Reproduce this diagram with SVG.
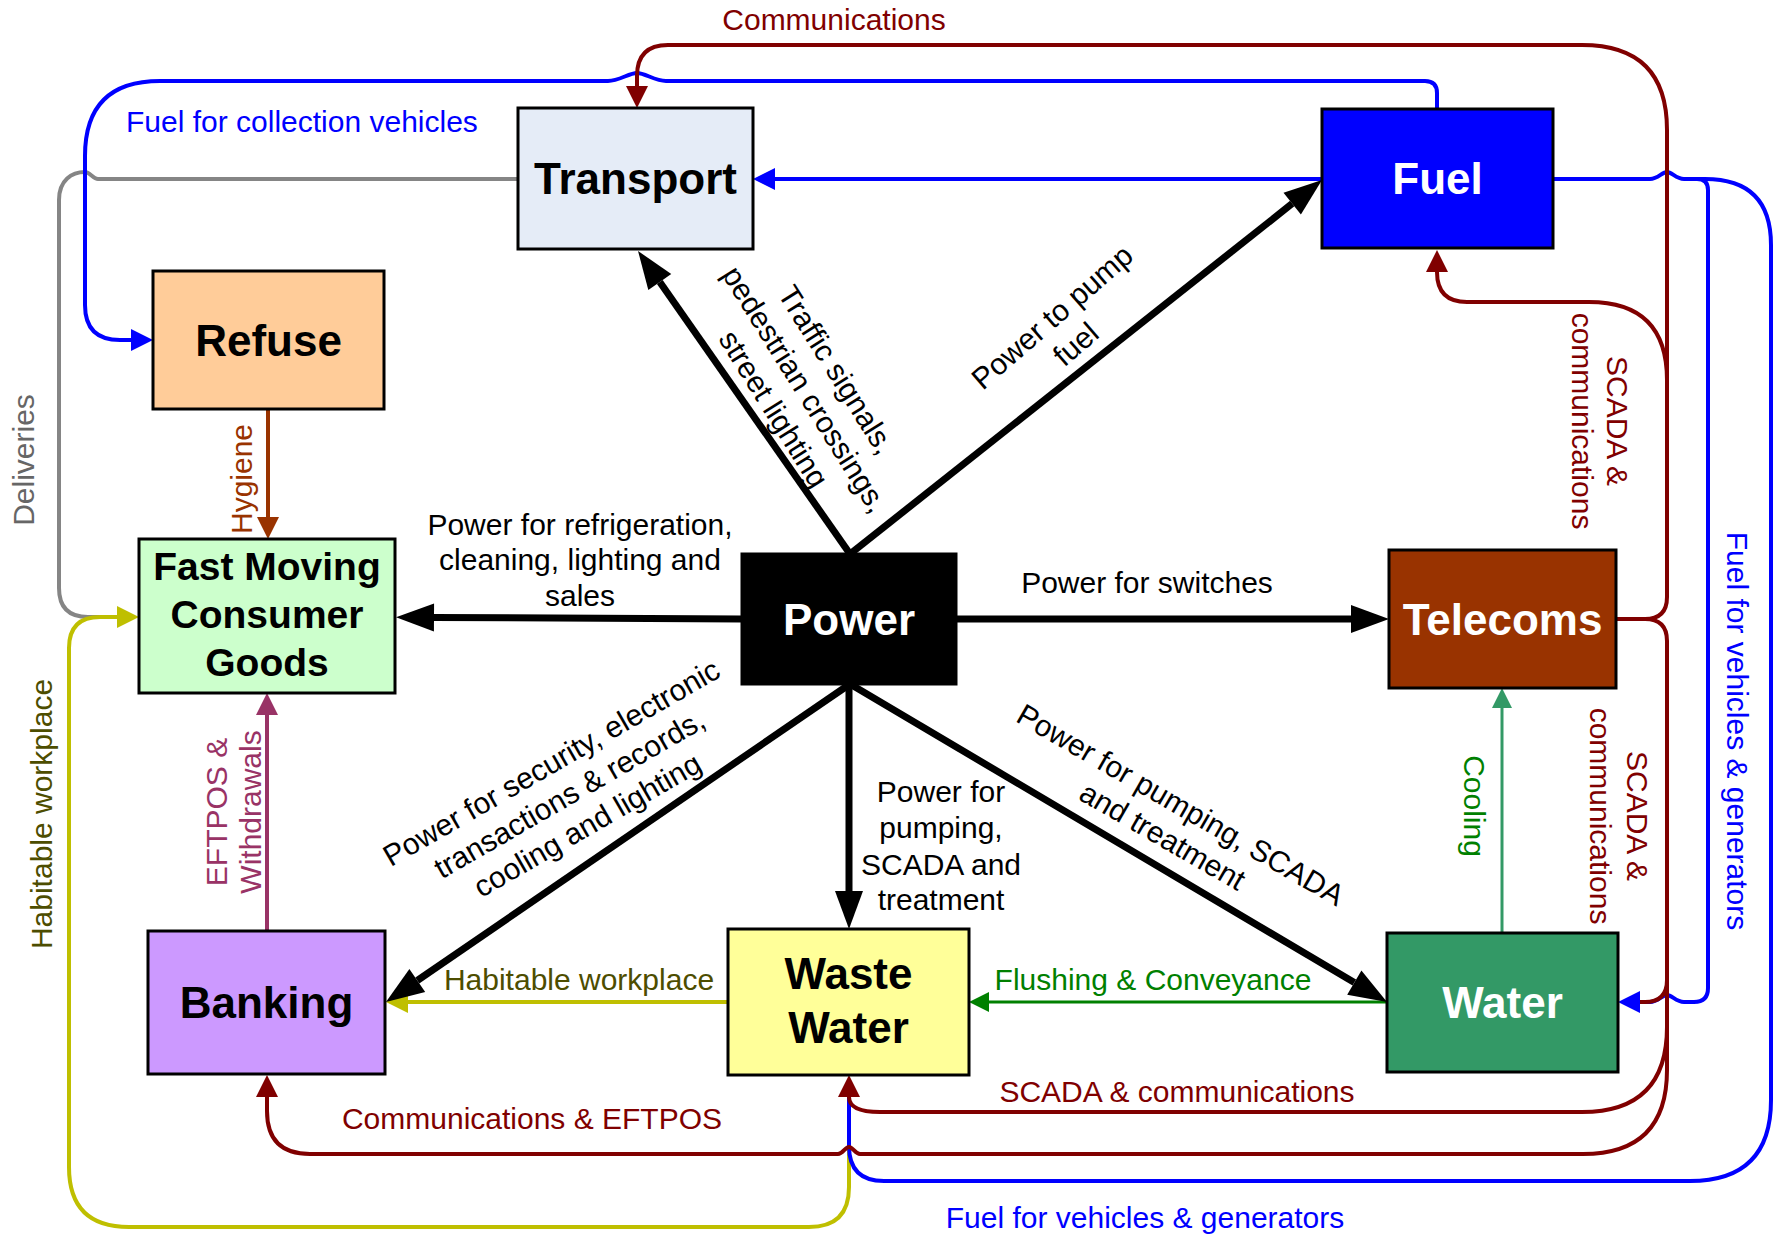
<svg xmlns="http://www.w3.org/2000/svg" width="1781" height="1235" viewBox="0 0 1781 1235">
<style>
.box{stroke:#000;stroke-width:3}
.title{font-family:"Liberation Sans",Arial,sans-serif;font-weight:bold;font-size:44px;text-anchor:middle}
.lbl{font-family:"Liberation Sans",Arial,sans-serif;font-size:30px}
.mid{text-anchor:middle}
.ln{fill:none;stroke-width:4}
.blk{fill:none;stroke:#000;stroke-width:7}
.red{stroke:#800000}
.blue{stroke:#0000FF}
.yel{stroke:#BFBF00}
</style>
<defs>
<marker id="ak" markerUnits="userSpaceOnUse" markerWidth="40" markerHeight="30" refX="0" refY="15" orient="auto" overflow="visible"><path d="M0,1 L38,15 L0,29 z" fill="#000"/></marker>
<marker id="ar" markerUnits="userSpaceOnUse" markerWidth="24" markerHeight="24" refX="0" refY="11" orient="auto" overflow="visible"><path d="M0,0 L22,11 L0,22 z" fill="#800000"/></marker>
<marker id="ab" markerUnits="userSpaceOnUse" markerWidth="24" markerHeight="24" refX="0" refY="11" orient="auto" overflow="visible"><path d="M0,0 L22,11 L0,22 z" fill="#0000FF"/></marker>
<marker id="ay" markerUnits="userSpaceOnUse" markerWidth="24" markerHeight="24" refX="0" refY="11" orient="auto" overflow="visible"><path d="M0,0 L22,11 L0,22 z" fill="#BFBF00"/></marker>
<marker id="abr" markerUnits="userSpaceOnUse" markerWidth="24" markerHeight="24" refX="0" refY="11" orient="auto" overflow="visible"><path d="M0,0 L22,11 L0,22 z" fill="#993300"/></marker>
<marker id="ap" markerUnits="userSpaceOnUse" markerWidth="24" markerHeight="24" refX="0" refY="11" orient="auto" overflow="visible"><path d="M0,0 L22,11 L0,22 z" fill="#993366"/></marker>
<marker id="ag" markerUnits="userSpaceOnUse" markerWidth="24" markerHeight="24" refX="0" refY="10" orient="auto" overflow="visible"><path d="M0,0 L20,10 L0,20 z" fill="#008000"/></marker>
<marker id="asg" markerUnits="userSpaceOnUse" markerWidth="24" markerHeight="24" refX="0" refY="10" orient="auto" overflow="visible"><path d="M0,0 L20,10 L0,20 z" fill="#339966"/></marker>
</defs>
<rect width="1781" height="1235" fill="#fff"/>

<g id="connectors">
  <!-- Deliveries (gray) -->
  <path class="ln" stroke="#858585" d="M518,179 H98 C93,179 90,172 85,172 C72,172 59,180 59,200 V588 Q59,617 88,617 H100"/>
  <!-- Habitable workplace to FMCG (yellow) -->
  <path class="ln yel" d="M849,1097 V1187 Q849,1227 809,1227 H129 Q69,1227 69,1167 V648 Q69,617 100,617 H117" marker-end="url(#ay)"/>
  <!-- Habitable workplace to Banking -->
  <path class="ln yel" d="M728,1002 H408" marker-end="url(#ay)"/>
  <!-- Fuel for vehicles & generators (outer, to Waste Water) -->
  <path class="ln blue" d="M1690,179 H1705 Q1771,179 1771,245 V1100 Q1771,1181 1690,1181 H884 Q849,1181 849,1146 V1097"/>
  <!-- Fuel for vehicles & generators (to Water) -->
  <path class="ln blue" d="M1553,179 H1650 C1658,179 1662,172 1667,172 C1672,172 1676,179 1684,179 H1697 Q1708,179 1708,190 V988 Q1708,1002 1694,1002 H1684 C1676,1002 1672,995 1667,995 C1662,995 1658,1002 1650,1002 H1640" marker-end="url(#ab)"/>
  <!-- Fuel to Transport -->
  <path class="ln blue" d="M1322,179 H775" marker-end="url(#ab)"/>
  <!-- Fuel for collection vehicles -->
  <path class="ln blue" d="M1437,109 V93 Q1437,81 1425,81 H666 C655,81 645,73 637,73 C629,73 619,81 608,81 H160 Q85,81 85,156 V305 Q85,340 120,340 H131" marker-end="url(#ab)"/>
  <!-- Communications Telecoms -> Transport -->
  <path class="ln red" d="M1616,619 H1645 Q1667,619 1667,597 V130 Q1667,45 1582,45 H668 Q637,45 637,76 V86" marker-end="url(#ar)"/>
  <!-- SCADA Telecoms -> Fuel -->
  <path class="ln red" d="M1667,380 Q1667,302 1589,302 H1467 Q1437,302 1437,272" marker-end="url(#ar)"/>
  <!-- SCADA Telecoms -> Water -->
  <path class="ln red" d="M1645,619 Q1667,619 1667,641 V980 Q1667,1002 1645,1002 H1640"/>
  <!-- SCADA Telecoms -> Waste Water -->
  <path class="ln red" d="M1667,980 V1027 Q1667,1112 1582,1112 H880 Q849,1112 849,1097" marker-end="url(#ar)"/>
  <!-- Communications & EFTPOS -> Banking -->
  <path class="ln red" d="M1667,1027 V1070 Q1667,1154 1583,1154 H860 C855,1154 853,1147 849,1147 C845,1147 843,1154 838,1154 H310 Q267,1154 267,1111 V1097" marker-end="url(#ar)"/>
  <!-- Hygiene -->
  <path class="ln" stroke="#993300" d="M268,409 V517" marker-end="url(#abr)"/>
  <!-- EFTPOS & Withdrawals -->
  <path class="ln" stroke="#993366" d="M267,931 V715" marker-end="url(#ap)"/>
  <!-- Flushing & Conveyance -->
  <path fill="none" stroke="#008000" stroke-width="3" d="M1387,1002 H989" marker-end="url(#ag)"/>
  <!-- Cooling -->
  <path fill="none" stroke="#339966" stroke-width="3" d="M1502,933 V708" marker-end="url(#asg)"/>
  <!-- Power arrows -->
  <path class="blk" d="M850,554 L659.8,282.1" marker-end="url(#ak)"/>
  <path class="blk" d="M850,554 L1292.2,203.6" marker-end="url(#ak)"/>
  <path class="blk" d="M742,619 L434,617.5" marker-end="url(#ak)"/>
  <path class="blk" d="M956,619 L1351,619" marker-end="url(#ak)"/>
  <path class="blk" d="M850,684 L417.3,980.5" marker-end="url(#ak)"/>
  <path class="blk" d="M849,684 L849,891" marker-end="url(#ak)"/>
  <path class="blk" d="M850,684 L1354.3,982.6" marker-end="url(#ak)"/>
</g>

<g id="node-transport"><rect class="box" x="518" y="108" width="235" height="141" fill="#E5ECF7"/><text class="title" x="635.5" y="194" fill="#000">Transport</text></g>
<g id="node-fuel"><rect class="box" x="1322" y="109" width="231" height="139" fill="#0000FF"/><text class="title" x="1437.5" y="194" fill="#fff">Fuel</text></g>
<g id="node-refuse"><rect class="box" x="153" y="271" width="231" height="138" fill="#FFCC99"/><text class="title" x="268.5" y="356" fill="#000">Refuse</text></g>
<g id="node-fmcg"><rect class="box" x="139" y="539" width="256" height="154" fill="#CCFFCC"/><text class="title" style="font-size:39px" x="267" y="580" fill="#000">Fast Moving</text><text class="title" style="font-size:39px" x="267" y="628" fill="#000">Consumer</text><text class="title" style="font-size:39px" x="267" y="676" fill="#000">Goods</text></g>
<g id="node-power"><rect class="box" x="742" y="554" width="214" height="130" fill="#000"/><text class="title" x="849" y="635" fill="#fff">Power</text></g>
<g id="node-telecoms"><rect class="box" x="1389" y="550" width="227" height="138" fill="#993300"/><text class="title" x="1502.5" y="635" fill="#fff">Telecoms</text></g>
<g id="node-banking"><rect class="box" x="148" y="931" width="237" height="143" fill="#CC99FF"/><text class="title" x="266.5" y="1018" fill="#000">Banking</text></g>
<g id="node-wastewater"><rect class="box" x="728" y="929" width="241" height="146" fill="#FFFF99"/><text class="title" x="848.5" y="989" fill="#000">Waste</text><text class="title" x="848.5" y="1043" fill="#000">Water</text></g>
<g id="node-water"><rect class="box" x="1387" y="933" width="231" height="139" fill="#339966"/><text class="title" x="1502.5" y="1018" fill="#fff">Water</text></g>

<g id="labels">
  <text class="lbl mid" x="834" y="30" fill="#800000">Communications</text>
  <text class="lbl" x="126" y="132" fill="#0000FF">Fuel for collection vehicles</text>
  <text class="lbl mid" transform="translate(34,460) rotate(-90)" fill="#666666">Deliveries</text>
  <text class="lbl mid" transform="translate(252,479) rotate(-90)" fill="#993300">Hygiene</text>
  <g class="lbl mid" fill="#000">
    <text x="580" y="535">Power for refrigeration,</text>
    <text x="580" y="570">cleaning, lighting and</text>
    <text x="580" y="606">sales</text>
  </g>
  <text class="lbl mid" x="1147" y="593" fill="#000">Power for switches</text>
  <g class="lbl mid" fill="#000" transform="translate(804,390) rotate(58)">
    <text x="0" y="-28">Traffic signals,</text>
    <text x="0" y="9">pedestrian crossings,</text>
    <text x="0" y="46">street lighting</text>
  </g>
  <g class="lbl mid" fill="#000" transform="translate(1053,318) rotate(-41)">
    <text x="0" y="9">Power to pump</text>
    <text x="0" y="45">fuel</text>
  </g>
  <g class="lbl mid" fill="#000" transform="translate(570,795) rotate(-30)">
    <text x="0" y="-27">Power for security, electronic</text>
    <text x="0" y="9">transactions &amp; records,</text>
    <text x="0" y="45">cooling and lighting</text>
  </g>
  <g class="lbl mid" fill="#000">
    <text x="941" y="802">Power for</text>
    <text x="941" y="838">pumping,</text>
    <text x="941" y="875">SCADA and</text>
    <text x="941" y="910">treatment</text>
  </g>
  <g class="lbl mid" fill="#000" transform="translate(1180,806) rotate(30)">
    <text x="0" y="9">Power for pumping, SCADA</text>
    <text x="0" y="45">and treatment</text>
  </g>
  <g class="lbl mid" fill="#800000" transform="translate(1607,421) rotate(90)">
    <text x="0" y="0">SCADA &amp;</text>
    <text x="0" y="35">communications</text>
  </g>
  <g class="lbl mid" fill="#800000" transform="translate(1627,816) rotate(90)">
    <text x="0" y="0">SCADA &amp;</text>
    <text x="0" y="37">communications</text>
  </g>
  <text class="lbl mid" transform="translate(1727,731) rotate(90)" fill="#0000FF">Fuel for vehicles &amp; generators</text>
  <text class="lbl mid" transform="translate(1464,806) rotate(90)" fill="#008000">Cooling</text>
  <text class="lbl mid" transform="translate(52,814) rotate(-90)" fill="#4D4D00">Habitable workplace</text>
  <g class="lbl mid" fill="#993366" transform="translate(227,812) rotate(-90)">
    <text x="0" y="0">EFTPOS &amp;</text>
    <text x="0" y="34">Withdrawals</text>
  </g>
  <text class="lbl mid" x="579" y="990" fill="#4D4D00">Habitable workplace</text>
  <text class="lbl mid" x="1153" y="990" fill="#008000">Flushing &amp; Conveyance</text>
  <text class="lbl mid" x="1177" y="1102" fill="#800000">SCADA &amp; communications</text>
  <text class="lbl mid" x="532" y="1129" fill="#800000">Communications &amp; EFTPOS</text>
  <text class="lbl mid" x="1145" y="1228" fill="#0000FF">Fuel for vehicles &amp; generators</text>
</g>
</svg>
